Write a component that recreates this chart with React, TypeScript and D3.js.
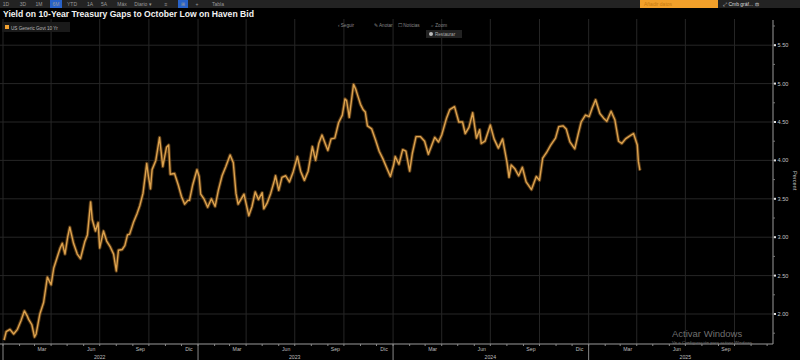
import React from 'react';
import * as d3 from 'd3';

// US generic govt 10y yield (approx weekly)
const dates2022 = ['2022-01-03','2022-01-07','2022-01-14','2022-01-21','2022-01-28','2022-02-04','2022-02-10','2022-02-15','2022-02-18','2022-02-24','2022-03-01','2022-03-04','2022-03-11','2022-03-18','2022-03-25','2022-04-01','2022-04-06','2022-04-12','2022-04-18','2022-04-22','2022-04-27','2022-05-02','2022-05-06','2022-05-09','2022-05-13','2022-05-20','2022-05-26','2022-06-03','2022-06-08','2022-06-14','2022-06-17','2022-06-23','2022-06-28','2022-07-01','2022-07-08','2022-07-14','2022-07-21','2022-07-27','2022-08-01','2022-08-05','2022-08-12','2022-08-17','2022-08-22','2022-08-26','2022-09-02','2022-09-09','2022-09-14','2022-09-20','2022-09-27','2022-09-30','2022-10-04','2022-10-07','2022-10-14','2022-10-21','2022-10-27','2022-11-03','2022-11-07','2022-11-10','2022-11-18','2022-11-25','2022-12-01','2022-12-07','2022-12-13','2022-12-16','2022-12-22','2022-12-30'];
const yields2022 = [1.66,1.77,1.80,1.74,1.80,1.92,2.04,1.98,1.93,1.86,1.70,1.74,2.00,2.15,2.48,2.38,2.60,2.73,2.86,2.92,2.78,3.00,3.13,3.04,2.92,2.78,2.72,2.94,3.03,3.46,3.23,3.08,3.19,2.86,3.08,2.95,2.87,2.78,2.56,2.83,2.84,2.89,3.03,3.04,3.19,3.31,3.41,3.57,3.96,3.80,3.63,3.88,4.00,4.30,3.92,4.17,4.20,3.82,3.83,3.68,3.53,3.43,3.48,3.48,3.68,3.88];

const dates2023 = ['2023-01-03','2023-01-06','2023-01-12','2023-01-19','2023-01-26','2023-02-02','2023-02-08','2023-02-15','2023-02-22','2023-03-02','2023-03-08','2023-03-13','2023-03-17','2023-03-22','2023-03-28','2023-04-06','2023-04-12','2023-04-18','2023-04-24','2023-05-01','2023-05-04','2023-05-10','2023-05-17','2023-05-24','2023-05-26','2023-06-01','2023-06-07','2023-06-14','2023-06-21','2023-06-28','2023-07-06','2023-07-12','2023-07-19','2023-07-26','2023-08-03','2023-08-09','2023-08-15','2023-08-21','2023-08-28','2023-09-01','2023-09-07','2023-09-14','2023-09-21','2023-09-28','2023-10-03','2023-10-06','2023-10-11','2023-10-19','2023-10-23','2023-10-27','2023-11-01','2023-11-06','2023-11-10','2023-11-14','2023-11-22','2023-11-29','2023-12-06','2023-12-13','2023-12-19','2023-12-27'];
const yields2023 = [3.79,3.56,3.50,3.39,3.50,3.40,3.61,3.80,3.92,4.07,3.97,3.57,3.43,3.49,3.56,3.28,3.40,3.59,3.49,3.58,3.37,3.44,3.57,3.74,3.80,3.61,3.78,3.80,3.72,3.85,4.05,3.86,3.74,3.86,4.18,4.00,4.22,4.33,4.20,4.13,4.28,4.29,4.49,4.59,4.80,4.78,4.56,4.99,4.93,4.84,4.73,4.66,4.63,4.45,4.41,4.27,4.12,4.02,3.92,3.79];

const dates2024 = ['2024-01-02','2024-01-05','2024-01-12','2024-01-19','2024-01-25','2024-02-01','2024-02-06','2024-02-13','2024-02-21','2024-02-29','2024-03-07','2024-03-13','2024-03-19','2024-03-26','2024-04-01','2024-04-10','2024-04-16','2024-04-25','2024-05-03','2024-05-10','2024-05-15','2024-05-22','2024-05-29','2024-06-05','2024-06-11','2024-06-14','2024-06-21','2024-07-01','2024-07-08','2024-07-16','2024-07-24','2024-08-01','2024-08-05','2024-08-09','2024-08-16','2024-08-23','2024-08-30','2024-09-06','2024-09-16','2024-09-25','2024-10-01','2024-10-07','2024-10-14','2024-10-22','2024-10-31','2024-11-06','2024-11-14','2024-11-20','2024-11-27','2024-12-06','2024-12-12','2024-12-18','2024-12-26'];
const yields2024 = [3.94,4.05,3.95,4.14,4.12,3.86,4.09,4.31,4.31,4.25,4.08,4.19,4.30,4.24,4.33,4.55,4.66,4.70,4.50,4.50,4.35,4.43,4.62,4.29,4.40,4.22,4.25,4.46,4.28,4.16,4.28,3.98,3.78,3.94,3.89,3.80,3.91,3.72,3.62,3.79,3.74,4.03,4.10,4.20,4.29,4.44,4.45,4.41,4.24,4.15,4.33,4.50,4.59];

const dates2025 = ['2025-01-02','2025-01-08','2025-01-14','2025-01-22','2025-01-29','2025-02-04','2025-02-12','2025-02-19','2025-02-26','2025-03-04','2025-03-11','2025-03-17','2025-03-26','2025-04-02','2025-04-04','2025-04-07'];
const yields2025 = [4.57,4.69,4.79,4.61,4.55,4.51,4.64,4.53,4.25,4.22,4.28,4.31,4.35,4.20,3.99,3.87];

const yTicks = [2.0, 2.5, 3.0, 3.5, 4.0, 4.5, 5.0, 5.5];
const monthNames = ['Ene','Feb','Mar','Abr','May','Jun','Jul','Ago','Sep','Oct','Nov','Dic'];
const labelMonths = [2, 5, 8, 11];
const toolbarItems = ['1D','3D','1M','6M','YTD','1A','5A','Máx','Diario ▾','≡','⊞','+','Tabla'];
const toolbarX = [6,23,39,56,72,90,104,122,143,166,183,197,218];

const parse = d3.timeParse('%Y-%m-%d');
const allDates = [...dates2022, ...dates2023, ...dates2024, ...dates2025];
const allYields = [...yields2022, ...yields2023, ...yields2024, ...yields2025];
const data = allDates.map((d, i) => ({ date: parse(d) as Date, value: allYields[i] }));

const W = 800, H = 360;
const axisX = 773, axisY = 344;
const font = 'Liberation Sans, Arial, sans-serif';

export default function App() {
  const x = d3.scaleTime()
    .domain([new Date(2022, 0, 1), new Date(2025, 11, 12)])
    .range([3, axisX]);
  const y = d3.scaleLinear().domain([2, 5.5]).range([314, 45.2]);

  const line = d3.line<{ date: Date; value: number }>()
    .x(d => x(d.date))
    .y(d => y(d.value));
  const path = line(data) || '';

  const months = d3.timeMonth.range(new Date(2022, 0, 1), new Date(2025, 11, 12));
  const quarters = months.filter(m => m.getMonth() % 3 === 0);
  const years = [2022, 2023, 2024, 2025];
  const minorY = d3.range(1.75, 5.76, 0.25);

  return (
    <svg width={W} height={H} style={{ position: 'fixed', left: 0, top: 0, background: '#000' }}
      fontFamily={font}>
      <rect width={W} height={H} fill="#000" />

      {/* toolbar */}
      <rect x={0} y={0} width={W} height={8} fill="#232323" />
      <rect x={50} y={0} width={12} height={8} fill="#2862c8" />
      <rect x={178} y={0} width={10} height={8} fill="#2862c8" />
      {toolbarItems.map((t, i) => (
        <text key={t} x={toolbarX[i]} y={5.5} fontSize={5} fill="#9a9a9a" textAnchor="middle">{t}</text>
      ))}
      <rect x={640} y={0} width={78} height={8} fill="#f2a02a" />
      <text x={644} y={5.5} fontSize={5} fill="#c87a10">Añadir datos</text>
      <text x={723} y={5.5} fontSize={5} fill="#ddd">⤢ Cmb gráf...  ⚙</text>

      {/* title */}
      <text x={3} y={16.5} fontSize={8.6} fontWeight="bold" fill="#f2f2f2">
        Yield on 10-Year Treasury Gaps to October Low on Haven Bid
      </text>

      {/* gridlines */}
      {yTicks.map(t => (
        <line key={t} x1={0} x2={axisX} y1={y(t)} y2={y(t)} stroke="#262626" strokeWidth={1} />
      ))}
      {quarters.map(q => (
        <line key={q.getTime()} x1={x(q)} x2={x(q)} y1={19} y2={axisY} stroke="#262626" strokeWidth={1} />
      ))}

      {/* legend */}
      <rect x={2} y={22} width={68} height={10} fill="#1a1a1a" />
      <rect x={5} y={25} width={4} height={4} fill="#f0a030" />
      <text x={11} y={29.5} fontSize={4.6} fill="#bbb">US Generic Govt 10 Yr</text>

      {/* top controls */}
      {[['‹ Seguir', 338], ['✎ Anotar', 374], ['☐ Noticias', 398], ['⌕ Zoom', 431]].map(([t, px]) => (
        <text key={t as string} x={px as number} y={27} fontSize={4.6} fill="#888">{t}</text>
      ))}
      <rect x={426} y={30} width={36} height={8} fill="#222" />
      <circle cx={431} cy={34} r={2} fill="#bbb" />
      <text x={435} y={36} fontSize={4.6} fill="#aaa">Restaurar</text>

      {/* series */}
      <path d={path} fill="none" stroke="#8a5a20" strokeOpacity={0.6} strokeWidth={3.4} strokeLinejoin="round" />
      <path d={path} fill="none" stroke="#dca24e" strokeWidth={1.4} strokeLinejoin="round" />

      {/* right axis */}
      <line x1={axisX} x2={axisX} y1={20} y2={axisY} stroke="#9a9a9a" strokeWidth={1} />
      {minorY.map(t => (
        <line key={t} x1={axisX} x2={axisX + 2} y1={y(t)} y2={y(t)} stroke="#777" />
      ))}
      {yTicks.map(t => (
        <g key={t}>
          <rect x={axisX + 1} y={y(t) - 1} width={2} height={2} fill="#ddd" />
          <text x={axisX + 4.5} y={y(t) + 2} fontSize={5.6} fill="#c4c4c4">{t.toFixed(2)}</text>
        </g>
      ))}
      <text transform={`translate(793,171) rotate(90)`} fontSize={5.6} fill="#c4c4c4">Percent</text>

      {/* bottom axis */}
      <line x1={0} x2={axisX} y1={axisY} y2={axisY} stroke="#9a9a9a" strokeWidth={1} />
      {months.map(m => (
        <line key={m.getTime()} x1={x(m)} x2={x(m)} y1={axisY} y2={axisY + 2} stroke="#888" />
      ))}
      {years.map(yr => (
        <line key={yr} x1={x(new Date(yr, 0, 1))} x2={x(new Date(yr, 0, 1))} y1={axisY} y2={H} stroke="#888" />
      ))}
      {months.filter(m => labelMonths.includes(m.getMonth()))
        .filter(m => x(new Date(m.getFullYear(), m.getMonth(), 15)) < axisX - 10)
        .map(m => (
        <text key={'l' + m.getTime()} x={x(new Date(m.getFullYear(), m.getMonth(), 15))} y={351}
          fontSize={5.2} fill="#bdbdbd" textAnchor="middle">{monthNames[m.getMonth()]}</text>
      ))}
      {years.map(yr => (
        <text key={'y' + yr} x={x(new Date(yr, 6, 1))} y={358.5} fontSize={5.2} fill="#bdbdbd" textAnchor="middle">{yr}</text>
      ))}

      {/* windows watermark */}
      <text x={672} y={337} fontSize={9.5} fill="#8c8c8c" fillOpacity={0.8}>Activar Windows</text>
      <text x={672} y={343.5} fontSize={4.4} fill="#7a7a7a">Ve a Configuración para activar Windows.</text>
    </svg>
  );
}
